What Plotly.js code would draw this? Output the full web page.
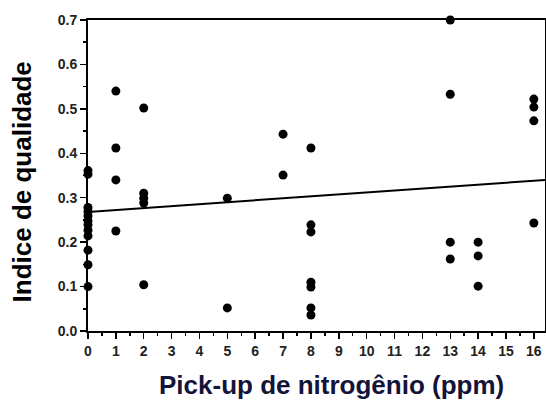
<!DOCTYPE html>
<html>
<head>
<meta charset="utf-8">
<script src="https://cdn.plot.ly/plotly-3.0.1.min.js"></script>
<style>html,body{margin:0;padding:0;background:#fff}#chart{width:546px;height:406px}</style>
</head>
<body>
<div id="chart"></div>
<script>
// Data
const pickupX = [0,0,0,0,0,0,0,0,0,0,0,0,
  1,1,1,1,
  2,2,2,2,2,
  5,5,
  7,7,
  8,8,8,8,8,8,8,
  13,13,13,13,
  14,14,14,
  16,16,16,16];
const qualidadeY = [0.361,0.353,0.278,0.269,0.259,0.248,0.239,0.227,0.214,0.182,0.149,0.100,
  0.540,0.412,0.340,0.225,
  0.502,0.310,0.299,0.288,0.104,
  0.299,0.052,
  0.443,0.351,
  0.412,0.239,0.223,0.110,0.099,0.052,0.036,
  0.700,0.533,0.200,0.162,
  0.200,0.169,0.101,
  0.522,0.504,0.473,0.243];
const fitX = [0, 16.4];
const fitY = [0.268, 0.340];
const xTicks = [0,1,2,3,4,5,6,7,8,9,10,11,12,13,14,15,16];
const yTicks = [0.0,0.1,0.2,0.3,0.4,0.5,0.6,0.7];
const yTickText = ["0.0","0.1","0.2","0.3","0.4","0.5","0.6","0.7"];

const traces = [
  {x: fitX, y: fitY, mode: 'lines', line: {color: '#000', width: 2}, hoverinfo: 'skip', cliponaxis: false},
  {x: pickupX, y: qualidadeY, mode: 'markers', marker: {color: '#000', size: 9}, cliponaxis: false}
];
const tickFont = {family: 'Liberation Sans, Arial, sans-serif', size: 14, color: '#222', weight: 'bold'};
const layout = {
  width: 546, height: 406,
  margin: {l: 88, r: 1, t: 20, b: 75},
  paper_bgcolor: '#fff', plot_bgcolor: '#fff',
  showlegend: false,
  xaxis: {
    range: [0, 16.4], tickmode: 'array', tickvals: xTicks, ticktext: xTicks.map(String),
    ticks: 'outside', ticklen: 6, tickwidth: 1.5, tickcolor: '#000',
    minor: {dtick: 0.5, tick0: 0, ticks: 'outside', ticklen: 3, tickwidth: 1.5, tickcolor: '#000', showgrid: false},
    showline: true, linecolor: '#000', linewidth: 2, mirror: true,
    showgrid: false, zeroline: false, tickfont: tickFont, fixedrange: true
  },
  yaxis: {
    range: [0, 0.7], tickmode: 'array', tickvals: yTicks, ticktext: yTickText,
    ticks: 'outside', ticklen: 6, tickwidth: 1.5, tickcolor: '#000',
    minor: {dtick: 0.05, tick0: 0, ticks: 'outside', ticklen: 3, tickwidth: 1.5, tickcolor: '#000', showgrid: false},
    showline: true, linecolor: '#000', linewidth: 2, mirror: true,
    showgrid: false, zeroline: false, tickfont: tickFont, fixedrange: true
  },
  annotations: [{
    text: 'Indice de qualidade', xref: 'paper', yref: 'paper',
    x: -0.145, y: 0.48, xanchor: 'center', yanchor: 'middle', showarrow: false, textangle: -90,
    font: {family: 'Liberation Sans, Arial, sans-serif', size: 26, color: '#000', weight: 'bold'}
  }, {
    text: 'Pick-up de nitrogênio (ppm)', xref: 'paper', yref: 'paper',
    x: 0.532, y: -0.175, xanchor: 'center', yanchor: 'middle', showarrow: false,
    font: {family: 'Liberation Sans, Arial, sans-serif', size: 26, color: '#14143a', weight: 'bold'}
  }]
};
Plotly.newPlot('chart', traces, layout, {displayModeBar: false, staticPlot: true});
</script>
</body>
</html>
